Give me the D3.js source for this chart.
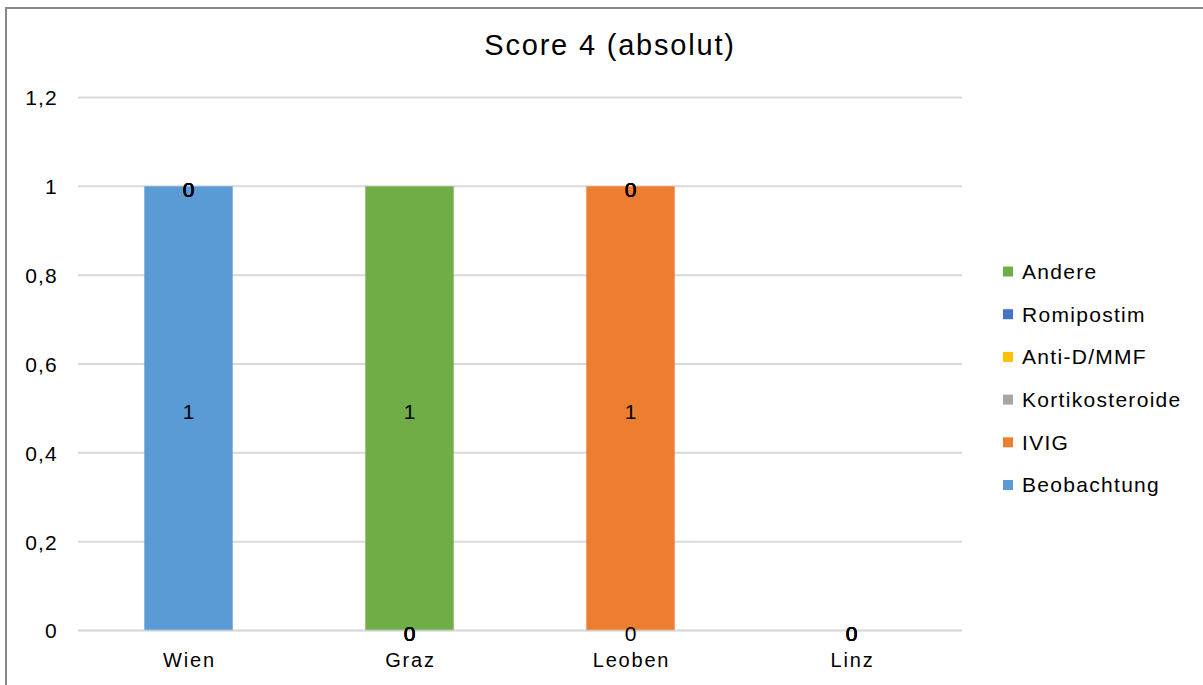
<!DOCTYPE html>
<html>
<head>
<meta charset="utf-8">
<script src="https://cdn.jsdelivr.net/npm/d3@7"></script>
<style>
  html, body { margin: 0; padding: 0; background: #fff; }
  svg { display: block; font-family: "Liberation Sans", Arial, sans-serif; }
</style>
</head>
<body>
<svg id="chart" width="1203" height="685"></svg>
<script>
const title = "Score 4 (absolut)";
const categories = ["Wien", "Graz", "Leoben", "Linz"];
const seriesNames = ["Beobachtung", "IVIG", "Kortikosteroide", "Anti-D/MMF", "Romipostim", "Andere"];
const seriesColors = ["#5B9BD5", "#ED7D31", "#A5A5A5", "#FFC000", "#4472C4", "#70AD47"];
const beobachtung = [1, 0, 0, 0];
const ivig = [0, 0, 1, 0];
const kortikosteroide = [0, 0, 0, 0];
const antiD = [0, 0, 0, 0];
const romipostim = [0, 0, 0, 0];
const andere = [0, 1, 0, 0];
const yTicks = [0, 0.2, 0.4, 0.6, 0.8, 1, 1.2];

const seriesValues = [beobachtung, ivig, kortikosteroide, antiD, romipostim, andere];
const rows = categories.map((c, i) => {
  const r = { cat: c };
  seriesNames.forEach((s, j) => r[s] = seriesValues[j][i]);
  return r;
});

const svg = d3.select("#chart");
const margin = { left: 78, right: 241, top: 97.5, bottom: 54.5 };
const W = 1203, H = 685;
const x = d3.scaleBand().domain(categories)
  .range([margin.left, W - margin.right]).paddingInner(0.6).paddingOuter(0.3);
const y = d3.scaleLinear().domain([0, 1.2]).range([H - margin.bottom, margin.top]);
const fmt = v => d3.format(".1~f")(v).replace(".", ",");
const FF = "Liberation Sans, Arial, sans-serif";

// outer border
svg.append("rect").attr("x", 6).attr("y", 8).attr("width", 1300).attr("height", 800)
  .attr("fill", "none").attr("stroke", "#898989").attr("stroke-width", 2);

// title
svg.append("text").attr("x", 610).attr("y", 55).attr("text-anchor", "middle")
  .attr("font-size", 29).attr("letter-spacing", "1.8px").attr("fill", "#000").text(title);

// gridlines
svg.append("g").selectAll("line").data(yTicks).join("line")
  .attr("x1", margin.left).attr("x2", W - margin.right)
  .attr("y1", d => y(d)).attr("y2", d => y(d))
  .attr("stroke", "#d9d9d9").attr("stroke-width", 2);

// y axis labels
const yAxis = d3.axisLeft(y).tickValues(yTicks).tickFormat(fmt).tickSize(0).tickPadding(0);
const gy = svg.append("g").attr("transform", "translate(58,0)").call(yAxis);
gy.select(".domain").remove();
gy.selectAll("text").attr("font-size", 21).attr("letter-spacing", "1.2px")
  .attr("fill", "#000").attr("font-family", FF).attr("dy", "0.35em");

// stacked bars
const stack = d3.stack().keys(seriesNames);
const stacked = stack(rows);
const gBars = svg.append("g");
stacked.forEach((layer, j) => {
  gBars.selectAll(null).data(layer).join("rect")
    .attr("x", d => x(d.data.cat))
    .attr("width", x.bandwidth())
    .attr("y", d => y(d[1]))
    .attr("height", d => y(d[0]) - y(d[1]))
    .attr("fill", seriesColors[j]);
});

// baseline over bars
svg.append("line").attr("x1", margin.left).attr("x2", W - margin.right)
  .attr("y1", y(0)).attr("y2", y(0)).attr("stroke", "#d9d9d9").attr("stroke-width", 2).attr("opacity", 0.6);

// x axis labels
const xAxis = d3.axisBottom(x).tickSize(0).tickPadding(0);
const gx = svg.append("g").attr("transform", `translate(1,${y(0)})`).call(xAxis);
gx.select(".domain").remove();
gx.selectAll("text").attr("font-size", 20).attr("letter-spacing", "1.8px").attr("fill", "#000")
  .attr("font-family", FF).attr("dy", "36.5px");

// data labels
const gLab = svg.append("g");
stacked.forEach((layer, j) => {
  gLab.selectAll(null).data(layer).join("text")
    .attr("x", d => x(d.data.cat) + x.bandwidth() / 2)
    .attr("y", d => (y(d[0]) + y(d[1])) / 2 + 3)
    .attr("dy", "0.35em")
    .attr("text-anchor", "middle")
    .attr("font-size", 21)
    .attr("fill", "#000")
    .text(d => d[1] - d[0]);
});

// legend
const legendOrder = seriesNames.map((s, i) => i).reverse();
const gLeg = svg.append("g");
legendOrder.forEach((si, k) => {
  const cy = 271.5 + k * 42.7;
  gLeg.append("rect").attr("x", 1003).attr("y", cy - 5).attr("width", 10).attr("height", 10)
    .attr("fill", seriesColors[si]);
  gLeg.append("text").attr("x", 1022).attr("y", cy).attr("dy", "0.35em")
    .attr("font-size", 21).attr("letter-spacing", "1.3px").attr("fill", "#000").text(seriesNames[si]);
});
</script>
</body>
</html>
